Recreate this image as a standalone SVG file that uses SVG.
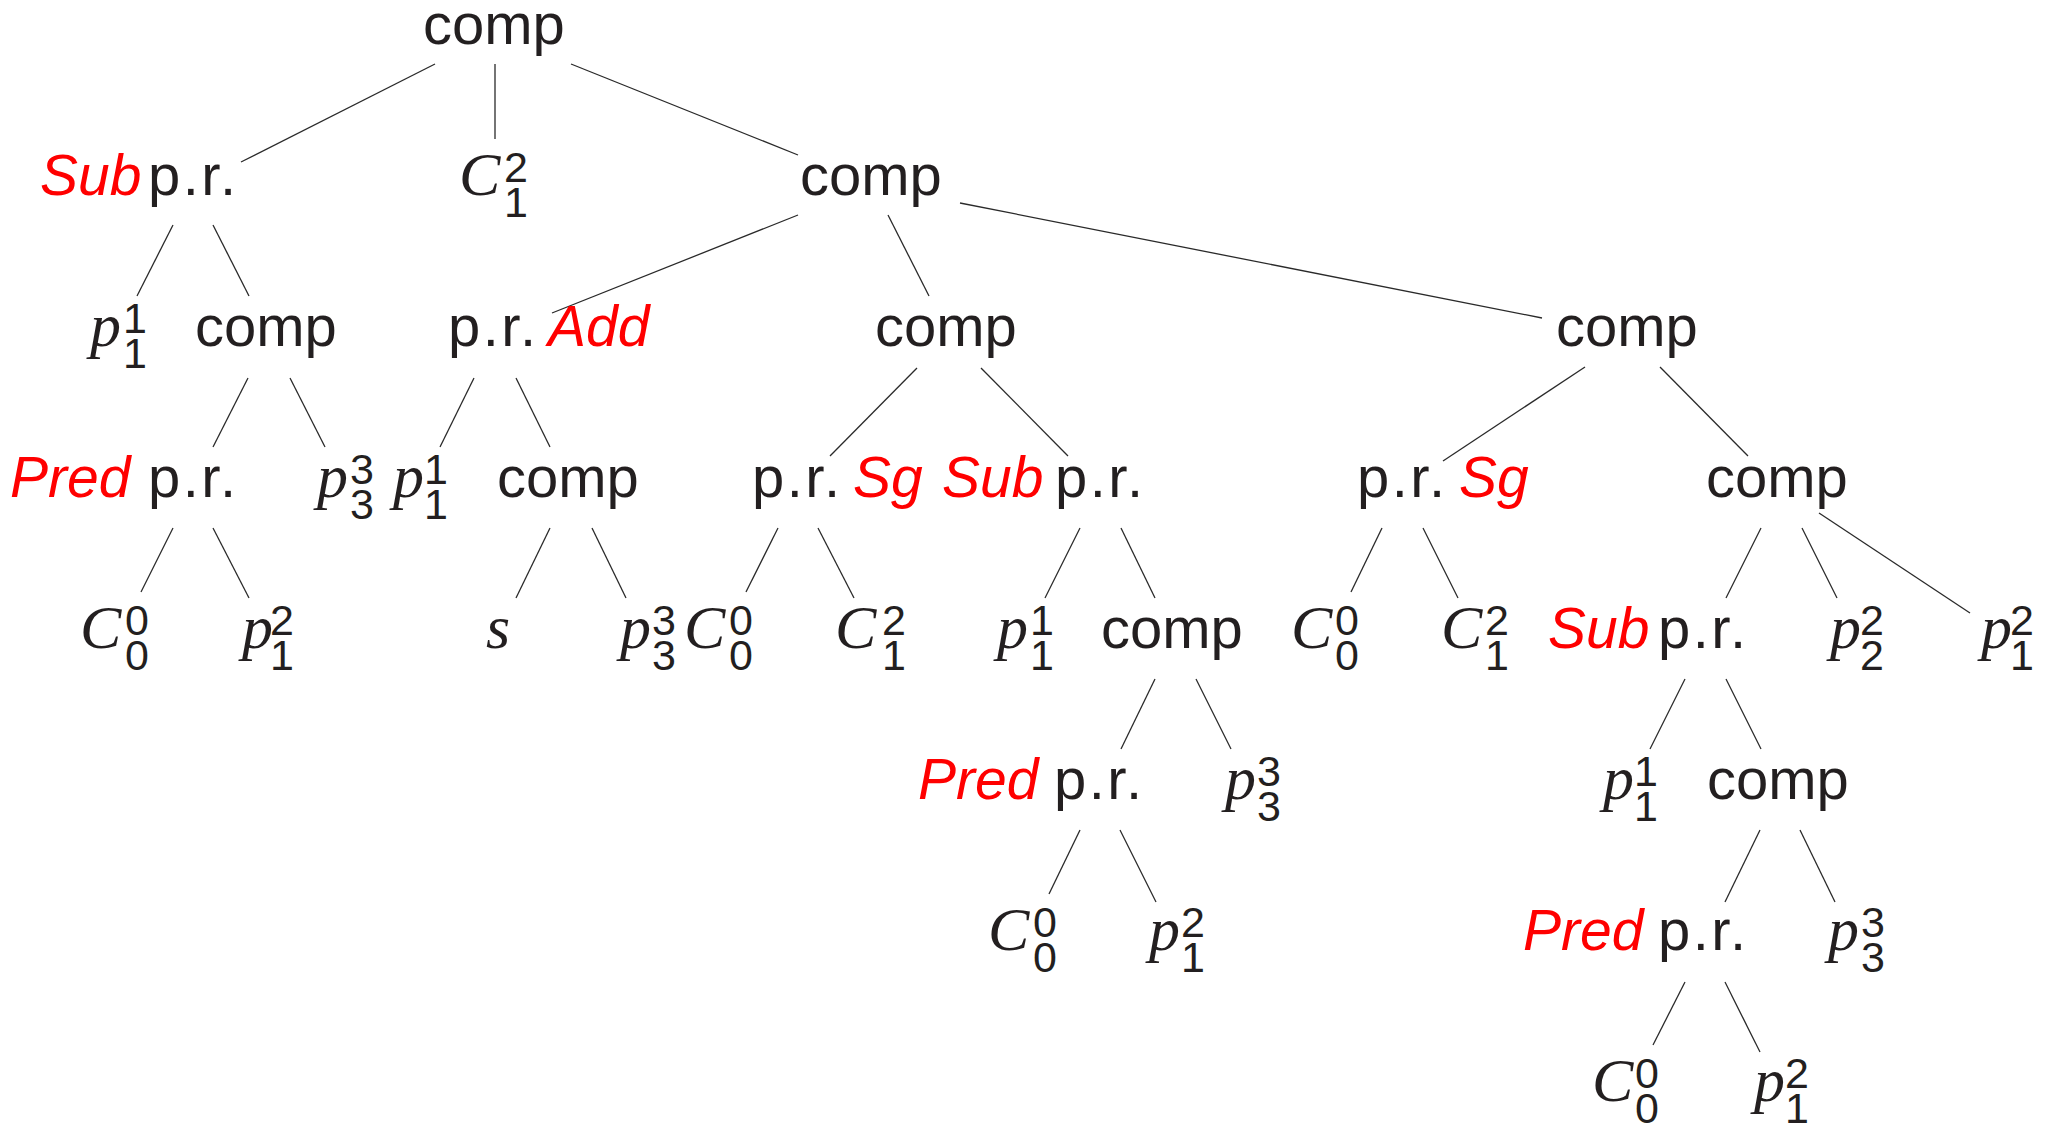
<svg xmlns="http://www.w3.org/2000/svg" width="2049" height="1135" viewBox="0 0 2049 1135">
<style>
.sf{font-family:"Liberation Sans",Arial,sans-serif;font-size:58px;fill:#231f20}
.pr{letter-spacing:2.5px}
.lab{font-family:"Liberation Sans",Arial,sans-serif;font-style:italic;font-size:57px;fill:#ff0000}
.mi{font-family:"Liberation Serif","Times New Roman",serif;font-style:italic;font-size:62px;fill:#231f20}
.ix{font-family:"Liberation Sans",Arial,sans-serif;font-size:43px;fill:#231f20;text-anchor:middle}
.e{stroke:#2a2a2a;stroke-width:1.3;fill:none}
</style>
<rect width="2049" height="1135" fill="#ffffff"/>
<g id="connectors" class="e">
<line x1="435" y1="64" x2="241" y2="162"/>
<line x1="495" y1="64" x2="495" y2="139"/>
<line x1="571" y1="64" x2="798" y2="155"/>
<line x1="173" y1="225" x2="137" y2="296"/>
<line x1="213" y1="225" x2="249" y2="296"/>
<line x1="798" y1="215" x2="552" y2="313"/>
<line x1="888" y1="215" x2="929" y2="296"/>
<line x1="960" y1="203" x2="1542" y2="318"/>
<line x1="248" y1="378" x2="213" y2="447"/>
<line x1="290" y1="378" x2="325" y2="447"/>
<line x1="474" y1="378" x2="440" y2="447"/>
<line x1="516" y1="378" x2="550" y2="447"/>
<line x1="917" y1="368" x2="830" y2="456"/>
<line x1="981" y1="368" x2="1068" y2="456"/>
<line x1="1585" y1="367" x2="1443" y2="461"/>
<line x1="1660" y1="367" x2="1748" y2="456"/>
<line x1="173" y1="528" x2="141" y2="592"/>
<line x1="213" y1="528" x2="249" y2="598"/>
<line x1="550" y1="528" x2="516" y2="598"/>
<line x1="592" y1="528" x2="626" y2="598"/>
<line x1="778" y1="528" x2="746" y2="592"/>
<line x1="818" y1="528" x2="854" y2="598"/>
<line x1="1080" y1="528" x2="1045" y2="598"/>
<line x1="1121" y1="528" x2="1155" y2="598"/>
<line x1="1382" y1="528" x2="1351" y2="592"/>
<line x1="1423" y1="528" x2="1458" y2="598"/>
<line x1="1761" y1="528" x2="1726" y2="598"/>
<line x1="1802" y1="528" x2="1837" y2="598"/>
<line x1="1819" y1="513" x2="1970" y2="613"/>
<line x1="1155" y1="679" x2="1121" y2="749"/>
<line x1="1196" y1="679" x2="1231" y2="749"/>
<line x1="1685" y1="679" x2="1650" y2="749"/>
<line x1="1726" y1="679" x2="1761" y2="749"/>
<line x1="1080" y1="830" x2="1049" y2="894"/>
<line x1="1120" y1="830" x2="1156" y2="902"/>
<line x1="1760" y1="830" x2="1725" y2="902"/>
<line x1="1800" y1="830" x2="1835" y2="902"/>
<line x1="1685" y1="982" x2="1653" y2="1045"/>
<line x1="1725" y1="982" x2="1760" y2="1052"/>
</g>
<!-- row 1 -->
<g id="n_root"><text class="sf" x="423" y="44">comp</text></g>
<!-- row 2 -->
<g id="n_sub_pr_1"><text class="lab" x="40" y="195">Sub</text><text class="sf pr" x="148" y="195">p.r.</text></g>
<g id="n_C12_1"><text class="mi" x="459" y="195">C</text><text class="ix" x="516" y="182">2</text><text class="ix" x="516" y="217">1</text></g>
<g id="n_comp_2"><text class="sf" x="800" y="195">comp</text></g>
<!-- row 3 -->
<g id="n_p11_1"><text class="mi" x="90" y="346">p</text><text class="ix" x="135" y="333">1</text><text class="ix" x="135" y="368">1</text></g>
<g id="n_comp_3a"><text class="sf" x="195" y="346">comp</text></g>
<g id="n_pr_add"><text class="sf pr" x="448" y="346">p.r.</text><text class="lab" x="548" y="346">Add</text></g>
<g id="n_comp_3b"><text class="sf" x="875" y="346">comp</text></g>
<g id="n_comp_3c"><text class="sf" x="1556" y="346">comp</text></g>
<!-- row 4 -->
<g id="n_pred_pr_1"><text class="lab" x="10" y="497">Pred</text><text class="sf pr" x="148" y="497">p.r.</text></g>
<g id="n_p33_1"><text class="mi" x="317" y="497">p</text><text class="ix" x="362" y="484">3</text><text class="ix" x="362" y="519">3</text></g>
<g id="n_p11_2"><text class="mi" x="393" y="497">p</text><text class="ix" x="436" y="484">1</text><text class="ix" x="436" y="519">1</text></g>
<g id="n_comp_4a"><text class="sf" x="497" y="497">comp</text></g>
<g id="n_pr_sg_1"><text class="sf pr" x="752" y="497">p.r.</text><text class="lab" x="853" y="497">Sg</text></g>
<g id="n_sub_pr_2"><text class="lab" x="942" y="497">Sub</text><text class="sf pr" x="1055" y="497">p.r.</text></g>
<g id="n_pr_sg_2"><text class="sf pr" x="1357" y="497">p.r.</text><text class="lab" x="1459" y="497">Sg</text></g>
<g id="n_comp_4b"><text class="sf" x="1706" y="497">comp</text></g>
<!-- row 5 -->
<g id="n_C00_1"><text class="mi" x="80" y="648">C</text><text class="ix" x="137" y="635">0</text><text class="ix" x="137" y="670">0</text></g>
<g id="n_p12_1"><text class="mi" x="242" y="648">p</text><text class="ix" x="282" y="635">2</text><text class="ix" x="282" y="670">1</text></g>
<g id="n_s"><text class="mi" x="486" y="648">s</text></g>
<g id="n_p33_2"><text class="mi" x="620" y="648">p</text><text class="ix" x="664" y="635">3</text><text class="ix" x="664" y="670">3</text></g>
<g id="n_C00_2"><text class="mi" x="684" y="648">C</text><text class="ix" x="741" y="635">0</text><text class="ix" x="741" y="670">0</text></g>
<g id="n_C12_2"><text class="mi" x="835" y="648">C</text><text class="ix" x="894" y="635">2</text><text class="ix" x="894" y="670">1</text></g>
<g id="n_p11_3"><text class="mi" x="997" y="648">p</text><text class="ix" x="1042" y="635">1</text><text class="ix" x="1042" y="670">1</text></g>
<g id="n_comp_5a"><text class="sf" x="1101" y="648">comp</text></g>
<g id="n_C00_3"><text class="mi" x="1291" y="648">C</text><text class="ix" x="1347" y="635">0</text><text class="ix" x="1347" y="670">0</text></g>
<g id="n_C12_3"><text class="mi" x="1441" y="648">C</text><text class="ix" x="1497" y="635">2</text><text class="ix" x="1497" y="670">1</text></g>
<g id="n_sub_pr_3"><text class="lab" x="1548" y="648">Sub</text><text class="sf pr" x="1658" y="648">p.r.</text></g>
<g id="n_p22"><text class="mi" x="1830" y="648">p</text><text class="ix" x="1872" y="635">2</text><text class="ix" x="1872" y="670">2</text></g>
<g id="n_p12_2"><text class="mi" x="1981" y="648">p</text><text class="ix" x="2022" y="635">2</text><text class="ix" x="2022" y="670">1</text></g>
<!-- row 6 -->
<g id="n_pred_pr_2"><text class="lab" x="918" y="799">Pred</text><text class="sf pr" x="1054" y="799">p.r.</text></g>
<g id="n_p33_3"><text class="mi" x="1225" y="799">p</text><text class="ix" x="1269" y="786">3</text><text class="ix" x="1269" y="821">3</text></g>
<g id="n_p11_4"><text class="mi" x="1603" y="799">p</text><text class="ix" x="1646" y="786">1</text><text class="ix" x="1646" y="821">1</text></g>
<g id="n_comp_6"><text class="sf" x="1707" y="799">comp</text></g>
<!-- row 7 -->
<g id="n_C00_4"><text class="mi" x="988" y="950">C</text><text class="ix" x="1045" y="937">0</text><text class="ix" x="1045" y="972">0</text></g>
<g id="n_p12_3"><text class="mi" x="1149" y="950">p</text><text class="ix" x="1193" y="937">2</text><text class="ix" x="1193" y="972">1</text></g>
<g id="n_pred_pr_3"><text class="lab" x="1523" y="950">Pred</text><text class="sf pr" x="1658" y="950">p.r.</text></g>
<g id="n_p33_4"><text class="mi" x="1828" y="950">p</text><text class="ix" x="1873" y="937">3</text><text class="ix" x="1873" y="972">3</text></g>
<!-- row 8 -->
<g id="n_C00_5"><text class="mi" x="1592" y="1101">C</text><text class="ix" x="1647" y="1088">0</text><text class="ix" x="1647" y="1123">0</text></g>
<g id="n_p12_4"><text class="mi" x="1754" y="1101">p</text><text class="ix" x="1797" y="1088">2</text><text class="ix" x="1797" y="1123">1</text></g>
</svg>
